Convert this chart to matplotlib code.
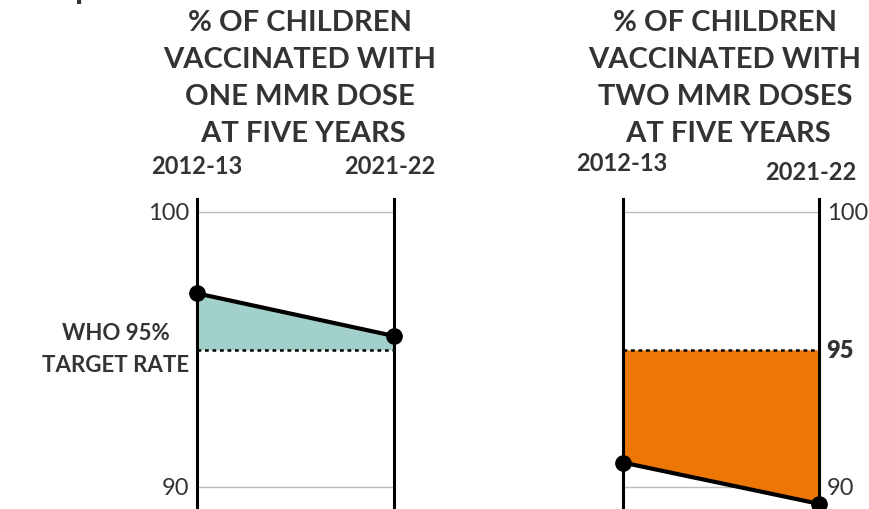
import matplotlib
matplotlib.use("Agg")
import matplotlib.pyplot as plt

plt.rcParams['font.family'] = ['Lato', 'DejaVu Sans']

periods = ["2012-13", "2021-22"]
one_dose = [97.05, 95.5]
two_doses = [90.9, 89.4]
target = 95
left_ticks = [90, 100]
right_ticks = [90, 95, 100]

TXT = '#333333'
W, H = 869, 510
fig = plt.figure(figsize=(W / 100, H / 100), dpi=100)

ymin, ymax = 89.21, 100.48

def make_ax(x0, x1):
    ax = fig.add_axes([x0 / W, 0, (x1 - x0) / W, 310 / H])
    ax.set_xlim(0, 1)
    ax.set_ylim(ymin, ymax)
    for s in ax.spines.values():
        s.set_visible(False)
    ax.set_xticks([])
    ax.set_yticks([])
    ax.axvline(0, color='black', lw=2.2, clip_on=False, zorder=4)
    ax.axvline(1, color='black', lw=2.2, clip_on=False, zorder=4)
    for g in (90, 100):
        ax.axhline(g, color='#bbbbbb', lw=1, zorder=1)
    return ax

xs = [0, 1]

# Left panel
axL = make_ax(197, 394)
axL.fill_between(xs, one_dose, [target, target], color='#a2d0ca', lw=0, zorder=2)
axL.plot(xs, [target, target], color='black', lw=1.8, ls=(0, (1.5, 1.5)), zorder=3)
axL.plot(xs, one_dose, color='black', lw=3, marker='o', ms=11, clip_on=False, zorder=5)
for t in left_ticks:
    axL.text(-0.04, t, str(t), ha='right', va='center', fontsize=17, color=TXT)
axL.text(-0.04, target + 0.05, "WHO 95%\nTARGET RATE", ha='right', va='center',
         multialignment='center', linespacing=1.65, fontsize=16,
         fontweight='bold', color=TXT)

# Right panel
axR = make_ax(622.7, 818.7)
axR.fill_between(xs, two_doses, [target, target], color='#ec7704', lw=0, zorder=2)
axR.plot(xs, [target, target], color='black', lw=1.8, ls=(0, (1.5, 1.5)), zorder=3)
axR.plot(xs, two_doses, color='black', lw=3, marker='o', ms=11, clip_on=False, zorder=5)
for t in right_ticks:
    axR.text(1.04, t, str(t), ha='left', va='center', fontsize=17, color=TXT,
             fontweight='heavy' if t == target else 'normal')

# Headers
def header(cx, lines):
    ys = [23, 60, 97, 134]
    for (txt, bold), y in zip(lines, ys):
        fig.text(cx / W, 1 - y / H, txt, ha='center', va='center', fontsize=21,
                 fontweight='bold', color=TXT)

header(300, [("% OF CHILDREN", False), ("VACCINATED WITH", False),
             ("ONE MMR DOSE", True), (" AT FIVE YEARS", True)])
header(725, [("% OF CHILDREN", False), ("VACCINATED WITH", False),
             ("TWO MMR DOSES", True), (" AT FIVE YEARS", True)])

yr = dict(ha='center', va='center', fontsize=17, fontweight='bold', color=TXT)
fig.text(197 / W, 1 - 167 / H, periods[0], **yr)
fig.text(390 / W, 1 - 167 / H, periods[1], **yr)
fig.text(622 / W, 1 - 164 / H, periods[0], **yr)
fig.text(811 / W, 1 - 172 / H, periods[1], **yr)

# partially cropped title glyph
fig.text(75 / W, 1 + 1 / H, "p", ha='left', va='baseline', fontsize=24,
         fontweight='bold', color=TXT)

fig.savefig('out.png', dpi=100)
